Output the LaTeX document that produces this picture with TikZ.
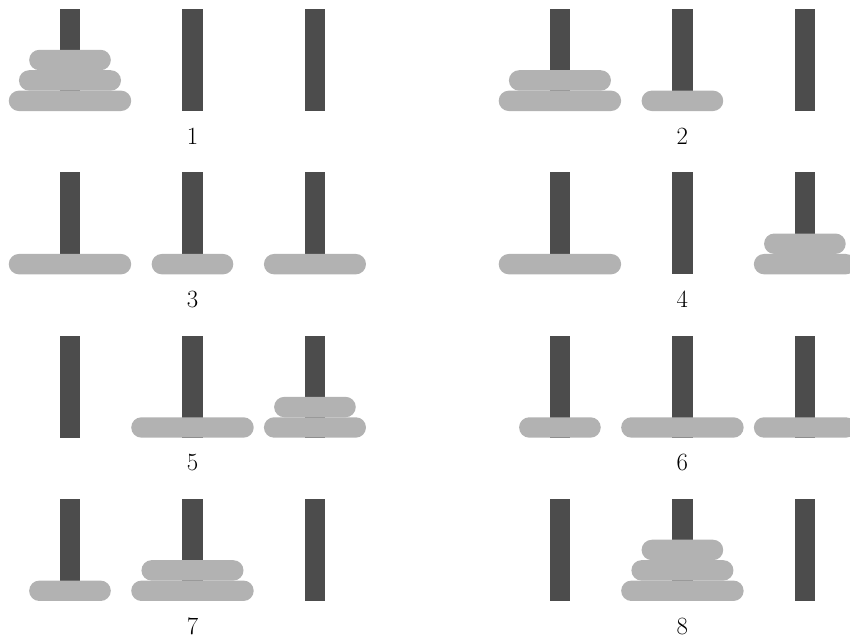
\documentclass[tikz,border=0pt]{standalone}
\usetikzlibrary{positioning}

\newcommand{\hdisk}[3]{\fill[disk] ({#1-#3},#2) rectangle ({#1+#3},{#2+0.5});}

\begin{document}
\begin{tikzpicture}[scale=1.0,
  peg/.style={fill=black!70},
  disk/.style={fill=black!30, rounded corners=0.25cm},
  lbl/.style={font=\LARGE}]
\useasboundingbox (-1.714,2.72) rectangle (19.105,-12.88);
% pegs
\foreach \y in {0,-4,-8,-12}
  \foreach \x in {0,3,6,12,15,18}
    \fill[peg] (\x-0.25,\y) rectangle (\x+0.25,\y+2.5);
% state 1
\hdisk{0}{0}{1.5}
\hdisk{0}{0.5}{1.25}
\hdisk{0}{1}{1}
% state 2
\hdisk{12}{0}{1.5}
\hdisk{12}{0.5}{1.25}
\hdisk{15}{0}{1}
% state 3
\hdisk{0}{-4}{1.5}
\hdisk{3}{-4}{1}
\hdisk{6}{-4}{1.25}
% state 4
\hdisk{12}{-4}{1.5}
\hdisk{18}{-4}{1.25}
\hdisk{18}{-3.5}{1}
% state 5
\hdisk{3}{-8}{1.5}
\hdisk{6}{-8}{1.25}
\hdisk{6}{-7.5}{1}
% state 6
\hdisk{12}{-8}{1}
\hdisk{15}{-8}{1.5}
\hdisk{18}{-8}{1.25}
% state 7
\hdisk{0}{-12}{1}
\hdisk{3}{-12}{1.5}
\hdisk{3}{-11.5}{1.25}
% state 8
\hdisk{15}{-12}{1.5}
\hdisk{15}{-11.5}{1.25}
\hdisk{15}{-11}{1}
% labels
\node[lbl] (s1) at (3,-0.62) {1};
\node[lbl] (s2) at (15,-0.62) {2};
\node[lbl] (s3) at (3,-4.62) {3};
\node[lbl] (s4) at (15,-4.62) {4};
\node[lbl] (s5) at (3,-8.62) {5};
\node[lbl] (s6) at (15,-8.62) {6};
\node[lbl] (s7) at (3,-12.62) {7};
\node[lbl] (s8) at (15,-12.62) {8};
\end{tikzpicture}
\end{document}
